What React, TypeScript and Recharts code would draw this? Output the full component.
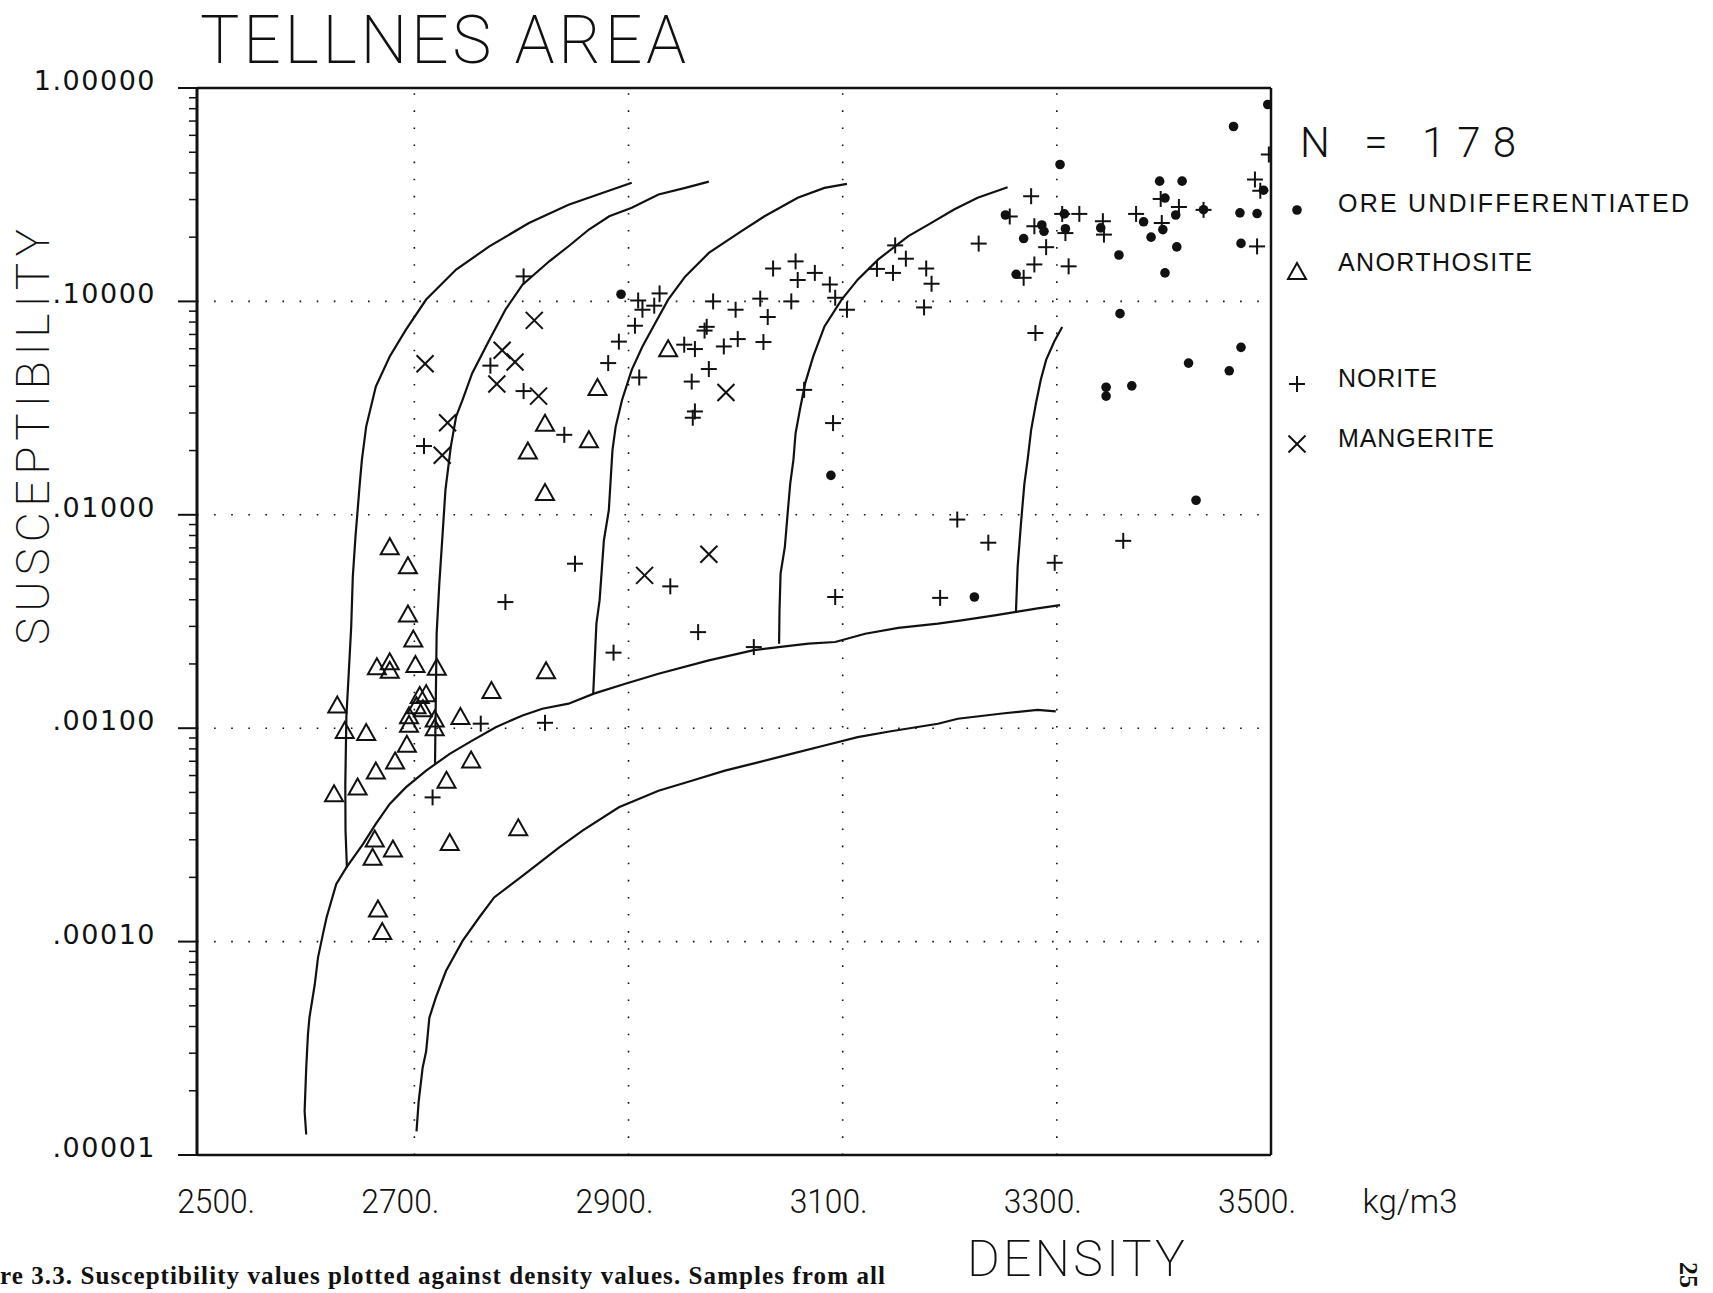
import React from "react";
import {
  ComposedChart,
  Line,
  Scatter,
  XAxis,
  YAxis,
  ReferenceLine,
} from "recharts";

// density (kg/m3) vs susceptibility
const ore = [
  { x: 2893, y: 0.108 }, { x: 3252, y: 0.254 }, { x: 3269, y: 0.197 }, { x: 3286, y: 0.228 },
  { x: 3288, y: 0.213 }, { x: 3262, y: 0.134 }, { x: 3303, y: 0.438 }, { x: 3307, y: 0.257 },
  { x: 3308, y: 0.219 }, { x: 3341, y: 0.221 }, { x: 3358, y: 0.165 }, { x: 3381, y: 0.236 },
  { x: 3388, y: 0.2 }, { x: 3396, y: 0.366 }, { x: 3417, y: 0.366 }, { x: 3401, y: 0.305 },
  { x: 3399, y: 0.217 }, { x: 3411, y: 0.254 }, { x: 3412, y: 0.18 }, { x: 3401, y: 0.136 },
  { x: 3437, y: 0.269 }, { x: 3471, y: 0.26 }, { x: 3487, y: 0.258 }, { x: 3472, y: 0.187 },
  { x: 3465, y: 0.66 }, { x: 3497, y: 0.837 }, { x: 3493, y: 0.332 }, { x: 3359, y: 0.0876 },
  { x: 3346, y: 0.0396 }, { x: 3346, y: 0.036 }, { x: 3370, y: 0.0402 }, { x: 3423, y: 0.0514 },
  { x: 3461, y: 0.0473 }, { x: 3472, y: 0.0609 }, { x: 3430, y: 0.0117 }, { x: 3223, y: 0.00412 },
  { x: 3089, y: 0.0153 },
];

const anorthosite = [
  { x: 2822, y: 0.027 }, { x: 2806, y: 0.02 }, { x: 2871, y: 0.0397 }, { x: 2863, y: 0.0226 },
  { x: 2937, y: 0.0603 }, { x: 2822, y: 0.0128 }, { x: 2677, y: 0.00713 }, { x: 2694, y: 0.0058 },
  { x: 2694, y: 0.00345 }, { x: 2699, y: 0.00263 }, { x: 2665, y: 0.00195 }, { x: 2677, y: 0.00206 },
  { x: 2677, y: 0.00188 }, { x: 2701, y: 0.002 }, { x: 2721, y: 0.00194 }, { x: 2823, y: 0.00187 },
  { x: 2772, y: 0.00151 }, { x: 2705, y: 0.00143 }, { x: 2711, y: 0.00146 }, { x: 2702, y: 0.00128 },
  { x: 2708, y: 0.00124 }, { x: 2695, y: 0.00115 }, { x: 2695, y: 0.00105 }, { x: 2719, y: 0.00111 },
  { x: 2719, y: 0.00101 }, { x: 2743, y: 0.00114 }, { x: 2628, y: 0.00129 }, { x: 2635, y: 0.00098 },
  { x: 2655, y: 0.00096 }, { x: 2693, y: 0.000845 }, { x: 2682, y: 0.000706 }, { x: 2664, y: 0.000634 },
  { x: 2647, y: 0.000533 }, { x: 2625, y: 0.000496 }, { x: 2753, y: 0.000714 }, { x: 2730, y: 0.000573 },
  { x: 2797, y: 0.000343 }, { x: 2663, y: 0.000304 }, { x: 2680, y: 0.000273 }, { x: 2661, y: 0.00025 },
  { x: 2733, y: 0.000293 }, { x: 2666, y: 0.000143 }, { x: 2670, y: 0.000112 },
];

const norite = [
  { x: 2802, y: 0.131 }, { x: 2771, y: 0.05 }, { x: 2802, y: 0.038 }, { x: 2840, y: 0.0237 },
  { x: 2709, y: 0.021 }, { x: 2909, y: 0.101 }, { x: 2913, y: 0.0914 }, { x: 2924, y: 0.0955 },
  { x: 2929, y: 0.109 }, { x: 2906, y: 0.0769 }, { x: 2891, y: 0.0648 }, { x: 2881, y: 0.0514 },
  { x: 2910, y: 0.044 }, { x: 2979, y: 0.1 }, { x: 3000, y: 0.0914 }, { x: 3023, y: 0.103 },
  { x: 3030, y: 0.0845 }, { x: 3052, y: 0.1 }, { x: 3035, y: 0.1426 }, { x: 3056, y: 0.154 },
  { x: 3058, y: 0.126 }, { x: 3074, y: 0.136 }, { x: 3088, y: 0.12 }, { x: 3093, y: 0.104 },
  { x: 3104, y: 0.0914 }, { x: 2973, y: 0.076 }, { x: 2971, y: 0.073 }, { x: 2952, y: 0.0627 },
  { x: 2962, y: 0.0598 }, { x: 2989, y: 0.0615 }, { x: 3002, y: 0.0666 }, { x: 3026, y: 0.0645 },
  { x: 2975, y: 0.0482 }, { x: 2959, y: 0.0421 }, { x: 2962, y: 0.0305 }, { x: 2960, y: 0.0285 },
  { x: 3064, y: 0.0385 }, { x: 3091, y: 0.0269 }, { x: 3149, y: 0.183 }, { x: 3159, y: 0.1585 },
  { x: 3132, y: 0.142 }, { x: 3147, y: 0.136 }, { x: 3178, y: 0.1426 }, { x: 3183, y: 0.121 },
  { x: 3176, y: 0.0937 }, { x: 3227, y: 0.1866 }, { x: 3276, y: 0.311 }, { x: 3256, y: 0.25 },
  { x: 3279, y: 0.225 }, { x: 3290, y: 0.1795 }, { x: 3279, y: 0.149 }, { x: 3269, y: 0.129 },
  { x: 3305, y: 0.257 }, { x: 3321, y: 0.257 }, { x: 3308, y: 0.209 }, { x: 3311, y: 0.146 },
  { x: 3343, y: 0.2375 }, { x: 3344, y: 0.2056 }, { x: 3374, y: 0.257 }, { x: 3397, y: 0.302 },
  { x: 3398, y: 0.233 }, { x: 3414, y: 0.277 }, { x: 3437, y: 0.2685 }, { x: 3487, y: 0.181 },
  { x: 3498, y: 0.488 }, { x: 3485, y: 0.3725 }, { x: 3490, y: 0.33 }, { x: 3280, y: 0.0711 },
  { x: 3362, y: 0.00755 }, { x: 3207, y: 0.0095 }, { x: 3236, y: 0.0074 }, { x: 3298, y: 0.00596 },
  { x: 3191, y: 0.00408 }, { x: 3093, y: 0.00412 }, { x: 2850, y: 0.0059 }, { x: 2939, y: 0.00462 },
  { x: 2965, y: 0.00282 }, { x: 2886, y: 0.00226 }, { x: 3017, y: 0.0024 }, { x: 2785, y: 0.0039 },
  { x: 2762, y: 0.00105 }, { x: 2822, y: 0.00106 }, { x: 2717, y: 0.000474 },
];

const mangerite = [
  { x: 2812, y: 0.0815 }, { x: 2710, y: 0.051 }, { x: 2782, y: 0.059 }, { x: 2794, y: 0.052 },
  { x: 2777, y: 0.041 }, { x: 2816, y: 0.036 }, { x: 2731, y: 0.027 }, { x: 2726, y: 0.019 },
  { x: 2991, y: 0.0374 }, { x: 2915, y: 0.0052 }, { x: 2975, y: 0.00653 },
];

// hand-drawn boundary curves
const curve1 = [
  { x: 2903, y: 0.36 }, { x: 2844, y: 0.284 }, { x: 2807, y: 0.233 }, { x: 2770, y: 0.181 },
  { x: 2739, y: 0.141 }, { x: 2711, y: 0.102 }, { x: 2692, y: 0.0736 }, { x: 2677, y: 0.0552 },
  { x: 2664, y: 0.0399 }, { x: 2655, y: 0.0259 }, { x: 2651, y: 0.0181 }, { x: 2649, y: 0.014 },
  { x: 2645, y: 0.00788 }, { x: 2642.5, y: 0.00512 }, { x: 2641, y: 0.00298 }, { x: 2639, y: 0.00193 },
  { x: 2636.5, y: 0.00113 }, { x: 2635.5, y: 0.000548 }, { x: 2635.7, y: 0.000331 }, { x: 2637, y: 0.000222 },
];

const curve2 = [
  { x: 2975, y: 0.364 }, { x: 2953, y: 0.3405 }, { x: 2928, y: 0.317 }, { x: 2903, y: 0.2745 },
  { x: 2882, y: 0.2506 }, { x: 2863, y: 0.2172 }, { x: 2844, y: 0.1813 }, { x: 2826, y: 0.1542 },
  { x: 2801, y: 0.1197 }, { x: 2785, y: 0.0914 }, { x: 2770, y: 0.066 }, { x: 2754, y: 0.0461 },
  { x: 2745, y: 0.0346 }, { x: 2739, y: 0.0289 }, { x: 2734, y: 0.0208 }, { x: 2729, y: 0.01305 },
  { x: 2726.4, y: 0.00818 }, { x: 2723.3, y: 0.00476 }, { x: 2720.8, y: 0.00278 }, { x: 2720.2, y: 0.00161 },
  { x: 2719.6, y: 0.000942 }, { x: 2719.3, y: 0.000681 },
];

const curve3 = [
  { x: 3104, y: 0.3556 }, { x: 3083, y: 0.3405 }, { x: 3058, y: 0.3058 }, { x: 3027, y: 0.2506 },
  { x: 3003, y: 0.2094 }, { x: 2975, y: 0.1687 }, { x: 2953, y: 0.131 }, { x: 2937, y: 0.1019 },
  { x: 2925, y: 0.0792 }, { x: 2913, y: 0.0615 }, { x: 2903, y: 0.0478 }, { x: 2894, y: 0.0346 },
  { x: 2888, y: 0.0259 }, { x: 2885, y: 0.0201 }, { x: 2881.6, y: 0.01052 }, { x: 2877, y: 0.0076 },
  { x: 2873, y: 0.00398 }, { x: 2870, y: 0.00309 }, { x: 2867.6, y: 0.001675 }, { x: 2867, y: 0.00145 },
];

const curve4 = [
  { x: 3254, y: 0.343 }, { x: 3226, y: 0.3058 }, { x: 3204, y: 0.2694 }, { x: 3180, y: 0.229 },
  { x: 3161, y: 0.2018 }, { x: 3133, y: 0.157 }, { x: 3114, y: 0.1265 }, { x: 3099, y: 0.1019 },
  { x: 3083, y: 0.0763 }, { x: 3072.5, y: 0.0552 }, { x: 3065, y: 0.0414 }, { x: 3060, y: 0.031 },
  { x: 3056, y: 0.0241 }, { x: 3054, y: 0.0181 }, { x: 3051, y: 0.014 }, { x: 3048.6, y: 0.01016 },
  { x: 3046, y: 0.00708 }, { x: 3042, y: 0.00531 }, { x: 3041, y: 0.00357 }, { x: 3040.6, y: 0.00249 },
];

const curve5 = [
  { x: 3305, y: 0.0758 }, { x: 3297.6, y: 0.0649 }, { x: 3290, y: 0.0532 }, { x: 3285, y: 0.0429 },
  { x: 3280.5, y: 0.0333 }, { x: 3276, y: 0.025 }, { x: 3272.7, y: 0.0181 }, { x: 3269.7, y: 0.014 },
  { x: 3266.5, y: 0.00912 }, { x: 3263.4, y: 0.0057 }, { x: 3261.8, y: 0.00351 },
];

const lowerBandTop = [
  { x: 2599, y: 0.00001247 }, { x: 2597.5, y: 0.00001603 }, { x: 2599, y: 0.0000256 }, { x: 2600.6, y: 0.0000367 },
  { x: 2602, y: 0.000044 }, { x: 2607, y: 0.0000631 }, { x: 2610, y: 0.0000841 }, { x: 2614.6, y: 0.0001084 },
  { x: 2618, y: 0.0001297 }, { x: 2627, y: 0.000186 }, { x: 2636.4, y: 0.000222 }, { x: 2652, y: 0.000286 },
  { x: 2664, y: 0.000356 }, { x: 2677, y: 0.000442 }, { x: 2692, y: 0.000528 }, { x: 2711, y: 0.000633 },
  { x: 2733, y: 0.000758 }, { x: 2754, y: 0.000875 }, { x: 2776, y: 0.001011 }, { x: 2801, y: 0.001148 },
  { x: 2819.5, y: 0.001234 }, { x: 2844, y: 0.001303 }, { x: 2867.6, y: 0.001452 }, { x: 2897, y: 0.001616 },
  { x: 2928, y: 0.0018 }, { x: 2975, y: 0.00208 }, { x: 3017, y: 0.00232 }, { x: 3040, y: 0.0024 },
  { x: 3068, y: 0.00249 }, { x: 3093, y: 0.002535 }, { x: 3121, y: 0.00277 }, { x: 3152, y: 0.00295 },
  { x: 3189, y: 0.00309 }, { x: 3211, y: 0.0032 }, { x: 3242, y: 0.00338 }, { x: 3262, y: 0.00351 },
  { x: 3282, y: 0.00364 }, { x: 3303, y: 0.00377 },
];

const lowerBandBottom = [
  { x: 2702, y: 0.0000129 }, { x: 2704, y: 0.0000178 }, { x: 2707.7, y: 0.0000256 }, { x: 2711, y: 0.0000306 },
  { x: 2714, y: 0.000044 }, { x: 2720, y: 0.0000546 }, { x: 2729.5, y: 0.0000728 }, { x: 2745, y: 0.0001007 },
  { x: 2760.5, y: 0.0001297 }, { x: 2774.5, y: 0.000161 }, { x: 2801, y: 0.000203 }, { x: 2835, y: 0.000276 },
  { x: 2857, y: 0.000331 }, { x: 2891, y: 0.000426 }, { x: 2928, y: 0.000509 }, { x: 2959, y: 0.000567 },
  { x: 2990, y: 0.000633 }, { x: 3021, y: 0.000692 }, { x: 3052, y: 0.000758 }, { x: 3083, y: 0.00083 },
  { x: 3114, y: 0.000908 }, { x: 3145, y: 0.000968 }, { x: 3189, y: 0.001049 }, { x: 3207.5, y: 0.001107 },
  { x: 3251, y: 0.001175 }, { x: 3282, y: 0.001219 }, { x: 3299, y: 0.0012 },
];

const curves = [curve1, curve2, curve3, curve4, curve5, lowerBandTop, lowerBandBottom];

const xTicks = [2500, 2700, 2900, 3100, 3300, 3500];
const xTickLabels = ["2500.", "2700.", "2900.", "3100.", "3300.", "3500."];
const xGrid = [2700, 2900, 3100, 3300];

const yMajor = [1, 0.1, 0.01, 0.001, 0.0001, 0.00001];
const yMajorLabels = ["1.00000", ".10000", ".01000", ".00100", ".00010", ".00001"];
const yMinorSteps = [2, 3, 4, 5, 6, 7, 8, 9];
const yGrid = [0.1, 0.01, 0.001, 0.0001];

const yTicks = [
  ...yMajor,
  ...yMajor.slice(1).flatMap((d) => yMinorSteps.map((m) => d * m)),
];

const legendNames = ["ORE UNDIFFERENTIATED", "ANORTHOSITE", "NORITE", "MANGERITE"];

const INK = "#111";

const DotMark = ({ cx, cy, r = 4.8 }: any) => <circle cx={cx} cy={cy} r={r} fill={INK} />;

const TriMark = ({ cx, cy, s = 9 }: any) => (
  <polygon
    points={`${cx},${cy - s + 1} ${cx - s},${cy + s - 1} ${cx + s},${cy + s - 1}`}
    fill="none"
    stroke={INK}
    strokeWidth={2}
  />
);

const PlusMark = ({ cx, cy, s = 8 }: any) => (
  <g stroke={INK} strokeWidth={2}>
    <line x1={cx - s} x2={cx + s} y1={cy} y2={cy} />
    <line x1={cx} x2={cx} y1={cy - s} y2={cy + s} />
  </g>
);

const CrossMark = ({ cx, cy, s = 8.5 }: any) => (
  <g stroke={INK} strokeWidth={2}>
    <line x1={cx - s} x2={cx + s} y1={cy - s} y2={cy + s} />
    <line x1={cx - s} x2={cx + s} y1={cy + s} y2={cy - s} />
  </g>
);

const YTick = ({ x, y, payload }: any) => {
  const idx = yMajor.findIndex((v) => Math.abs(v - payload.value) / v < 1e-6);
  if (idx < 0) {
    return <line x1={x - 8} x2={x} y1={y} y2={y} stroke={INK} strokeWidth={1.5} />;
  }
  return (
    <g>
      <line x1={x - 19} x2={x} y1={y} y2={y} stroke={INK} strokeWidth={2} />
      <text
        x={x - 41}
        y={y + 2}
        textAnchor="end"
        fill={INK}
        fontFamily="'DejaVu Sans', sans-serif"
        fontSize={27}
        letterSpacing={1.5}
      >
        {yMajorLabels[idx]}
      </text>
    </g>
  );
};

const XTick = ({ x, y, payload }: any) => {
  const idx = xTicks.indexOf(payload.value);
  const dx = payload.value === 2500 ? 16 : -14;
  return (
    <text
      x={x + dx}
      y={y + 58}
      textAnchor="middle"
      fill={INK}
      fontFamily="Roboto, sans-serif"
      fontWeight={300}
      fontSize={34}
      textLength={78}
      lengthAdjust="spacingAndGlyphs"
    >
      {xTickLabels[idx]}
    </text>
  );
};

const legendMarks = [DotMark, TriMark, PlusMark, CrossMark];
const legendTextY = [212, 271, 387, 447];
const legendMarkY = [210, 271, 384, 444];
const legendTextLen = [351, 194, 99, 156];

export default function App() {
  return (
    <div style={{ position: "absolute", left: 0, top: 0, width: 1713, height: 1293, background: "#fff" }}>
      <ComposedChart
        width={1713}
        height={1293}
        margin={{ top: 88, right: 442, bottom: 0, left: 0 }}
      >
        <XAxis
          type="number"
          dataKey="x"
          domain={[2497, 3500]}
          ticks={xTicks}
          interval={0}
          allowDataOverflow
          height={138}
          tickSize={0}
          tickMargin={0}
          tick={<XTick />}
          axisLine={{ stroke: INK, strokeWidth: 2.5 }}
        />
        <YAxis
          type="number"
          dataKey="y"
          scale="log"
          domain={[0.00001, 1]}
          ticks={yTicks}
          interval={0}
          allowDataOverflow
          width={197}
          tickSize={0}
          tickMargin={0}
          tick={<YTick />}
          axisLine={{ stroke: INK, strokeWidth: 3 }}
        />
        {xGrid.map((v) => (
          <ReferenceLine key={`gx${v}`} x={v} stroke={INK} strokeWidth={1.6} strokeDasharray="1.6 15.5" />
        ))}
        {yGrid.map((v) => (
          <ReferenceLine key={`gy${v}`} y={v} stroke={INK} strokeWidth={1.6} strokeDasharray="1.6 15.5" />
        ))}
        <ReferenceLine y={1} stroke={INK} strokeWidth={2.5} />
        <ReferenceLine x={3500} stroke={INK} strokeWidth={2.5} />
        {curves.map((c, i) => (
          <Line
            key={`c${i}`}
            data={c}
            dataKey="y"
            type="linear"
            dot={false}
            stroke={INK}
            strokeWidth={2.2}
            isAnimationActive={false}
            legendType="none"
          />
        ))}
        <Scatter name={legendNames[0]} data={ore} dataKey="y" shape={<DotMark />} isAnimationActive={false} />
        <Scatter name={legendNames[1]} data={anorthosite} dataKey="y" shape={<TriMark />} isAnimationActive={false} />
        <Scatter name={legendNames[2]} data={norite} dataKey="y" shape={<PlusMark />} isAnimationActive={false} />
        <Scatter name={legendNames[3]} data={mangerite} dataKey="y" shape={<CrossMark />} isAnimationActive={false} />
      </ComposedChart>

      <svg
        width={1713}
        height={1293}
        style={{ position: "absolute", left: 0, top: 0, pointerEvents: "none" }}
      >
        <text x={200} y={63} fill={INK} fontFamily="Roboto, sans-serif" fontWeight={200} fontSize={66} textLength={486}>
          TELLNES AREA
        </text>
        <text
          x={49}
          y={437}
          transform="rotate(-90 49 437)"
          textAnchor="middle"
          fill={INK}
          fontFamily="Roboto, sans-serif"
          fontWeight={200}
          fontSize={46}
          textLength={416}
        >
          SUSCEPTIBILITY
        </text>
        <text x={1076} y={1276} textAnchor="middle" fill={INK} fontFamily="Roboto, sans-serif" fontWeight={200} fontSize={50} textLength={218}>
          DENSITY
        </text>
        <text x={1410} y={1213} textAnchor="middle" fill={INK} fontFamily="Roboto, sans-serif" fontWeight={300} fontSize={34} textLength={95} lengthAdjust="spacingAndGlyphs">
          kg/m3
        </text>
        <text x={1300} y={157} fill={INK} fontFamily="Roboto, sans-serif" fontWeight={300} fontSize={42} textLength={216}>
          N = 178
        </text>
        {legendNames.map((name, i) => {
          const Mark = legendMarks[i];
          return (
            <g key={name}>
              <Mark cx={1297} cy={legendMarkY[i]} />
              <text
                x={1338}
                y={legendTextY[i]}
                fill={INK}
                fontFamily="'Liberation Sans', Arial, sans-serif"
                fontSize={25}
                textLength={legendTextLen[i]}
              >
                {name}
              </text>
            </g>
          );
        })}
        <text x={0} y={1284} fill={INK} fontFamily="'Liberation Serif', serif" fontWeight={700} fontSize={25} textLength={885}>
          re 3.3.   Susceptibility values plotted against density values.  Samples from all
        </text>
        <text x={1680} y={1262} transform="rotate(90 1680 1262)" fill={INK} fontFamily="'Liberation Serif', serif" fontWeight={700} fontSize={26}>
          25
        </text>
      </svg>
    </div>
  );
}
